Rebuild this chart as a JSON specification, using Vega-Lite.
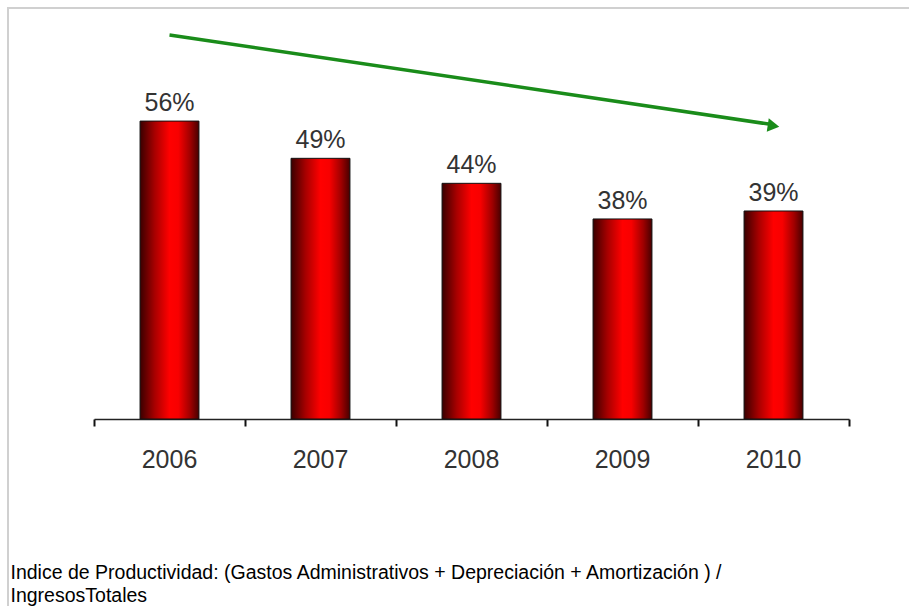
{
  "$schema": "https://vega.github.io/schema/vega-lite/v6.json",
  "width": 918,
  "height": 610,
  "autosize": {"type": "none"},
  "padding": {"left": 8, "top": 8, "right": 0, "bottom": 0},
  "background": "white",
  "title": {
    "text": "Indice de Productividad",
    "font": "Liberation Sans",
    "fontSize": 17,
    "fontWeight": "bold",
    "color": "#000",
    "anchor": "middle",
    "frame": "group",
    "baseline": "alphabetic",
    "offset": 5
  },
  "config": {"view": {"stroke": "#d0d0d0", "strokeWidth": 2}},
  "datasets": {
    "bars": [
      {"year": "2006", "value": 0.56},
      {"year": "2007", "value": 0.49},
      {"year": "2008", "value": 0.443},
      {"year": "2009", "value": 0.376},
      {"year": "2010", "value": 0.391}
    ],
    "arrow": [
      {"year": "2006", "v": 0.722},
      {"year": "2010", "v": 0.553}
    ],
    "arrowhead": [
      {"year": "2010", "v": 0.551}
    ]
  },
  "layer": [
    {
      "data": {"name": "bars"},
      "mark": {
        "type": "bar",
        "width": {"band": 0.39},
        "color": {
          "gradient": "linear",
          "x1": 0, "y1": 0, "x2": 1, "y2": 0,
          "stops": [
            {"offset": 0, "color": "#3a0000"},
            {"offset": 0.25, "color": "#a80000"},
            {"offset": 0.5, "color": "#ff0000"},
            {"offset": 0.65, "color": "#f80000"},
            {"offset": 0.85, "color": "#a00000"},
            {"offset": 1, "color": "#480000"}
          ]
        },
        "stroke": "#111",
        "strokeWidth": 1
      },
      "encoding": {
        "x": {
          "field": "year",
          "type": "nominal",
          "sort": null,
          "scale": {"range": [86, 841], "paddingInner": 0, "paddingOuter": 0},
          "axis": {
            "offset": -199,
            "domainColor": "#222",
            "domainWidth": 1.5,
            "ticks": true,
            "tickColor": "#111",
            "tickWidth": 2,
            "tickSize": 7,
            "bandPosition": 1,
            "tickExtra": true,
            "labelAngle": 0,
            "labelFont": "Liberation Sans",
            "labelFontSize": 25,
            "labelColor": "#333",
            "labelPadding": 21,
            "title": ["Indice de Productividad: (Gastos Administrativos + Depreciación + Amortización ) /", "IngresosTotales"],
            "titleFont": "Liberation Sans",
            "titleFontSize": 19.5,
            "titleFontWeight": "normal",
            "titleColor": "#000",
            "titleAlign": "left",
            "titleBaseline": "alphabetic",
            "titleAngle": 0,
            "titleX": 2,
            "titleY": 159,
            "titleLineHeight": 23
          }
        },
        "y": {
          "field": "value",
          "type": "quantitative",
          "scale": {"domain": [0, 1], "range": [411, -121], "nice": false, "zero": true},
          "axis": null
        }
      }
    },
    {
      "data": {"name": "bars"},
      "mark": {
        "type": "text",
        "font": "Liberation Sans",
        "fontSize": 25,
        "color": "#333",
        "baseline": "alphabetic",
        "dy": -10
      },
      "encoding": {
        "x": {"field": "year", "type": "nominal", "sort": null},
        "y": {"field": "value", "type": "quantitative"},
        "text": {"field": "value", "type": "quantitative", "format": ".0%"}
      }
    },
    {
      "data": {"name": "arrow"},
      "mark": {"type": "line", "color": "#1a8c1a", "strokeWidth": 3.5},
      "encoding": {
        "x": {"field": "year", "type": "nominal", "sort": null},
        "y": {"field": "v", "type": "quantitative"}
      }
    },
    {
      "data": {"name": "arrowhead"},
      "mark": {
        "type": "point",
        "shape": "triangle-right",
        "filled": true,
        "color": "#1a8c1a",
        "opacity": 1,
        "size": 180,
        "angle": 8.6
      },
      "encoding": {
        "x": {"field": "year", "type": "nominal", "sort": null},
        "y": {"field": "v", "type": "quantitative"}
      }
    }
  ]
}
